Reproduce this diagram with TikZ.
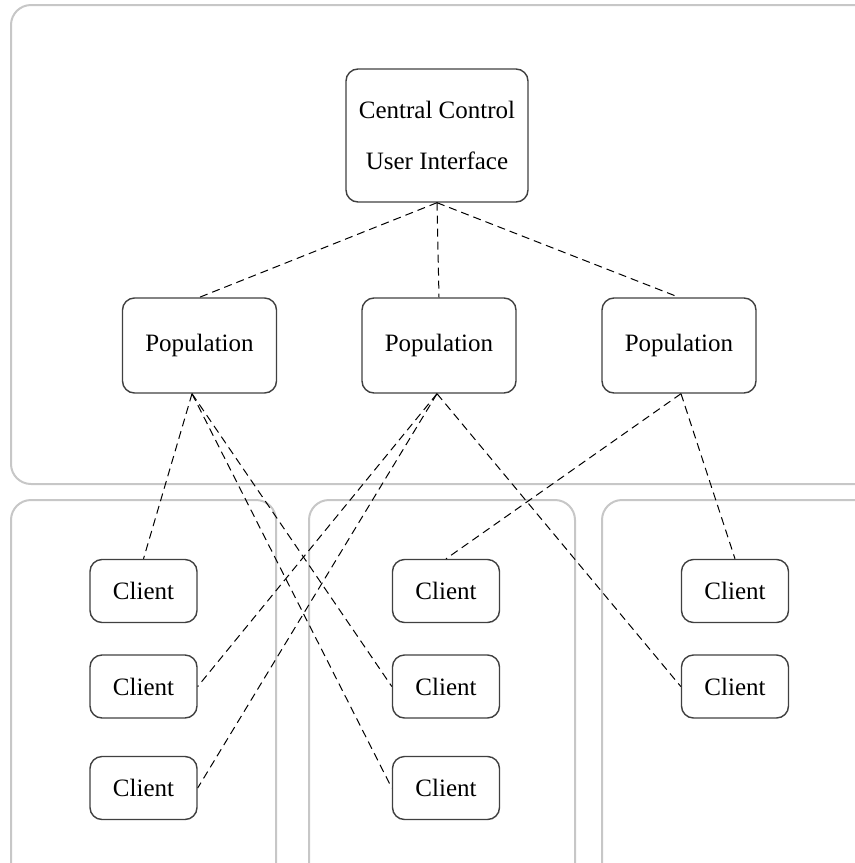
\documentclass[tikz,border=0pt]{standalone}
\usepackage{fontspec}
\setmainfont{Liberation Serif}
\begin{document}
\begin{tikzpicture}[x=0.5pt,y=-0.5pt,
    region/.style={draw=black!22,line width=1pt,rounded corners=10pt},
    box/.style={draw=black!75,line width=0.7pt,rounded corners=6pt,inner sep=0pt,
      font=\fontsize{12.5}{25.5}\selectfont,align=center},
    ctrl/.style={box,minimum width=91pt,minimum height=66.5pt},
    pop/.style={box,minimum width=77pt,minimum height=47.5pt},
    client/.style={box,minimum width=53.5pt,minimum height=31.5pt},
    link/.style={dash pattern=on 4pt off 2.5pt,line width=0.5pt}]
  \clip (0,0) rectangle (855,863);
  \draw[region] (11,5) rectangle (900,484);
  \draw[region] (11,500) rectangle (276,900);
  \draw[region] (309,500) rectangle (575,900);
  \draw[region] (602,500) rectangle (900,900);
  \path
    (437,135.5) node[ctrl] (ctrl){Central Control\\User Interface}
    (199.5,345.5) node[pop] (p1){Population}
    (439,345.5) node[pop] (p2){Population}
    (679,345.5) node[pop] (p3){Population}
    (143.5,591) node[client] (c11){Client}
    (143.5,686.5) node[client] (c12){Client}
    (143.5,788) node[client] (c13){Client}
    (446,591) node[client] (c21){Client}
    (446,686.5) node[client] (c22){Client}
    (446,788) node[client] (c23){Client}
    (735,591) node[client] (c31){Client}
    (735,686.5) node[client] (c32){Client};
  \begin{scope}[link]
    \draw (ctrl.south) to (p1.north);
    \draw (ctrl.south) to (p2.north);
    \draw (ctrl.south) to (p3.north);
    \draw ([xshift=-3.75pt]p1.south) to (c11.north);
    \draw ([xshift=-3.75pt]p1.south) to (c22.west);
    \draw ([xshift=-3.75pt]p1.south) to (c23.west);
    \draw ([xshift=-1pt]p2.south) to (c12.east);
    \draw ([xshift=-1pt]p2.south) to (c13.east);
    \draw ([xshift=-1pt]p2.south) to (c32.west);
    \draw ([xshift=1pt]p3.south) to (c21.north);
    \draw ([xshift=1pt]p3.south) to (c31.north);
  \end{scope}
\end{tikzpicture}
\end{document}
